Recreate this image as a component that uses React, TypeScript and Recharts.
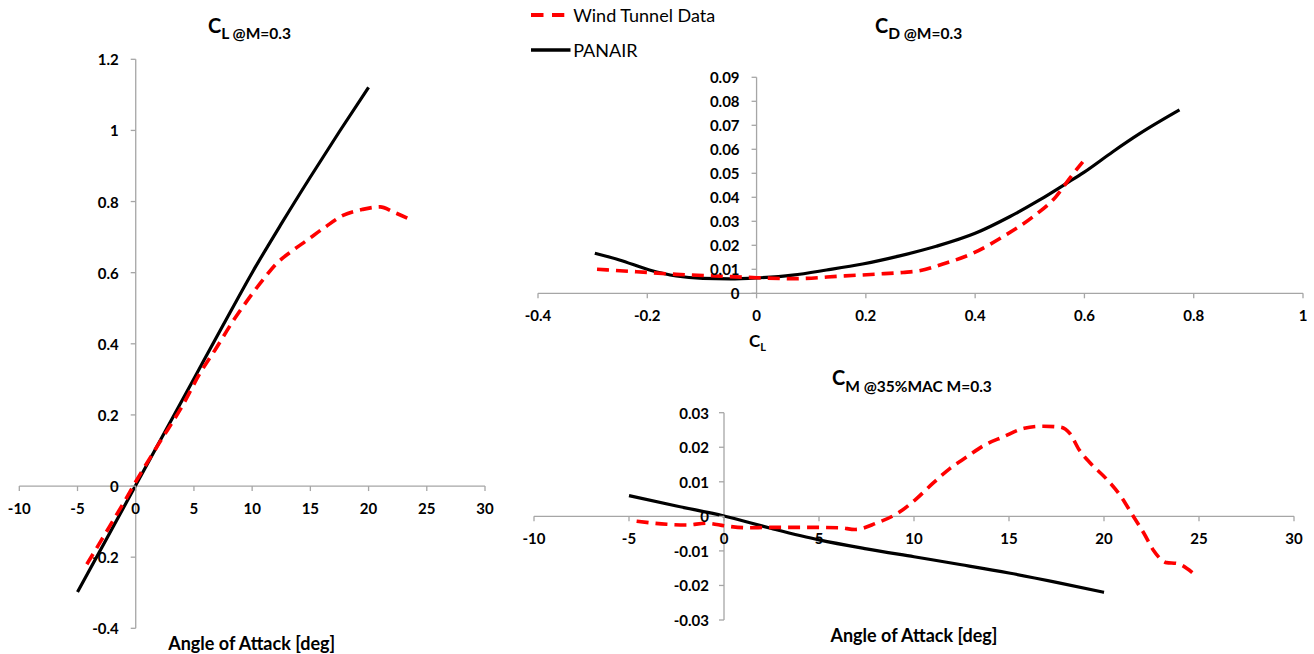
import React from "react";
import { LineChart, Line, XAxis, YAxis, ReferenceLine, ReferenceDot, Legend } from "recharts";

const FONT = "Lato, 'Open Sans', sans-serif";
const AXIS = "#a6a6a6";
const RED = "#ff0000";
const DASH = "12 7";

// C_L vs angle of attack
const clAlphaWT = [-4.2, -3, -2, -1, 0, 2, 4, 5.5, 6.8, 8.4, 9.7, 11, 12.1, 13.3, 14.7, 16.3, 17.8, 19.5, 21, 22.1, 23.6];
const clWT = [-0.22, -0.155, -0.1, -0.045, 0.012, 0.12, 0.225, 0.316, 0.382, 0.466, 0.527, 0.583, 0.626, 0.658, 0.691, 0.729, 0.761, 0.778, 0.785, 0.771, 0.749];
const clAlphaPan = [-5, -2.5, 0, 2.5, 5, 7.5, 10, 12.5, 15, 17.5, 20];
const clPan = [-0.298, -0.148, 0.002, 0.152, 0.302, 0.452, 0.6, 0.737, 0.869, 0.997, 1.121];

// C_D vs C_L
const cdClWT = [-0.292, -0.22, -0.147, -0.074, 0, 0.066, 0.158, 0.22, 0.268, 0.298, 0.341, 0.396, 0.451, 0.506, 0.548, 0.573, 0.597];
const cdWT = [0.01, 0.009, 0.0079, 0.0072, 0.0065, 0.0061, 0.0072, 0.008, 0.0087, 0.0094, 0.0122, 0.0167, 0.0236, 0.0319, 0.0403, 0.0479, 0.0548];
const cdClPan = [-0.296, -0.251, -0.196, -0.147, -0.098, -0.049, 0, 0.066, 0.128, 0.194, 0.262, 0.329, 0.4, 0.463, 0.518, 0.567, 0.599, 0.652, 0.701, 0.774];
const cdPan = [0.0167, 0.0139, 0.0097, 0.0072, 0.0062, 0.006, 0.0064, 0.0076, 0.0097, 0.0122, 0.0156, 0.0196, 0.025, 0.0319, 0.0389, 0.0458, 0.0504, 0.059, 0.0665, 0.0764];

// C_M vs angle of attack
const cmAlphaWT = [-4.6, -3, -2, -0.9, 0.1, 1.2, 2.4, 3.7, 4.9, 6.1, 6.9, 8.0, 9.2, 10.05, 11, 11.9, 12.8, 13.7, 14.7, 15.8, 16.8, 17.7, 18.2, 18.7, 19.3, 20.1, 20.9, 21.5, 22.1, 22.6, 23.3, 23.8, 24.8];
const cmWT = [-0.0014, -0.0023, -0.0025, -0.002, -0.0028, -0.0033, -0.0032, -0.0032, -0.0032, -0.0033, -0.0038, -0.002, 0.0011, 0.0047, 0.0096, 0.0139, 0.0173, 0.0206, 0.023, 0.0255, 0.0261, 0.0258, 0.024, 0.0192, 0.0153, 0.011, 0.0057, 0.0004, -0.0049, -0.0098, -0.0134, -0.0136, -0.017];
const cmAlphaPan = [-5, -2.5, 0, 2.5, 5, 7.5, 10, 12.5, 15, 17.5, 20];
const cmPan = [0.006, 0.003, 0.0001, -0.0035, -0.0068, -0.0094, -0.0117, -0.014, -0.0164, -0.0191, -0.022];

// ticks
const alphaTicks = [-10, -5, 0, 5, 10, 15, 20, 25, 30];
const alphaTickLabels = ["-10", "-5", "0", "5", "10", "15", "20", "25", "30"];
const clTicks = [-0.4, -0.2, 0, 0.2, 0.4, 0.6, 0.8, 1, 1.2];
const clTickLabels = ["-0.4", "-0.2", "0", "0.2", "0.4", "0.6", "0.8", "1", "1.2"];
const clXTicks = [-0.4, -0.2, 0, 0.2, 0.4, 0.6, 0.8, 1];
const clXTickLabels = ["-0.4", "-0.2", "0", "0.2", "0.4", "0.6", "0.8", "1"];
const cdTicks = [0, 0.01, 0.02, 0.03, 0.04, 0.05, 0.06, 0.07, 0.08, 0.09];
const cdTickLabels = ["0", "0.01", "0.02", "0.03", "0.04", "0.05", "0.06", "0.07", "0.08", "0.09"];
const cmTicks = [-0.03, -0.02, -0.01, 0, 0.01, 0.02, 0.03];
const cmTickLabels = ["-0.03", "-0.02", "-0.01", "0", "0.01", "0.02", "0.03"];

const zip = (xs: number[], ys: number[]) => xs.map((x, i) => ({ x, y: ys[i] }));

const xTickShape = (label: string) => (p: any) => (
  <g>
    <line x1={p.cx} y1={p.cy} x2={p.cx} y2={p.cy + 5} stroke={AXIS} strokeWidth={1.3} />
    <text x={p.cx} y={p.cy + 22} textAnchor="middle" dominantBaseline="central"
      fontFamily={FONT} fontWeight={700} fontSize={15} fill="#000">{label}</text>
  </g>
);

const yTickShape = (label: string, gap: number) => (p: any) => (
  <g>
    <line x1={p.cx - 5} y1={p.cy} x2={p.cx} y2={p.cy} stroke={AXIS} strokeWidth={1.3} />
    <text x={p.cx - gap} y={p.cy} textAnchor="end" dominantBaseline="central"
      fontFamily={FONT} fontWeight={700} fontSize={15} fill="#000">{label}</text>
  </g>
);

const LegendBox = () => (
  <div style={{ fontFamily: FONT, fontSize: 18, color: "#000", width: 220 }}>
    <div style={{ display: "flex", alignItems: "center", height: 24 }}>
      <svg width={42.5} height={10}>
        <line x1={0} y1={5} x2={33.3} y2={5} stroke={RED} strokeWidth={4} strokeDasharray="12.5 8.5" />
      </svg>
      <span>Wind Tunnel Data</span>
    </div>
    <div style={{ display: "flex", alignItems: "center", height: 24, marginTop: 11 }}>
      <svg width={42.5} height={10}>
        <line x1={0} y1={5} x2={39.5} y2={5} stroke="#000" strokeWidth={3.5} />
      </svg>
      <span>PANAIR</span>
    </div>
  </div>
);

type PanelProps = {
  width: number;
  height: number;
  margin: { top: number; right: number; bottom: number; left: number };
  xDomain: [number, number];
  yDomain: [number, number];
  xTicks: number[];
  xLabels: string[];
  yTicks: number[];
  yLabels: string[];
  yGap: number;
  wt: { x: number; y: number }[];
  pan: { x: number; y: number }[];
  legend?: boolean;
};

function Panel(props: PanelProps) {
  const { width, height, margin, xDomain, yDomain, xTicks, xLabels, yTicks, yLabels, yGap, wt, pan, legend } = props;
  return (
    <LineChart width={width} height={height} margin={margin}>
      <XAxis type="number" dataKey="x" domain={xDomain} hide allowDataOverflow />
      <YAxis type="number" dataKey="y" domain={yDomain} hide allowDataOverflow />
      <ReferenceLine y={0} stroke={AXIS} strokeWidth={1.3} ifOverflow="visible" />
      <ReferenceLine x={0} stroke={AXIS} strokeWidth={1.3} ifOverflow="visible" />
      {xTicks.map((t, i) => (
        <ReferenceDot key={"x" + i} x={t} y={0} r={0} ifOverflow="visible" shape={xTickShape(xLabels[i])} />
      ))}
      {yTicks.map((t, i) => (
        <ReferenceDot key={"y" + i} x={0} y={t} r={0} ifOverflow="visible" shape={yTickShape(yLabels[i], yGap)} />
      ))}
      <Line data={pan} dataKey="y" name="PANAIR" type="monotone" stroke="#000" strokeWidth={3.2}
        dot={false} activeDot={false} isAnimationActive={false} />
      <Line data={wt} dataKey="y" name="Wind Tunnel Data" type="monotone" stroke={RED} strokeWidth={3.6}
        strokeDasharray={DASH} dot={false} activeDot={false} isAnimationActive={false} />
      {legend && (
        <Legend content={<LegendBox />} layout="vertical" align="center" verticalAlign="middle"
          wrapperStyle={{ left: 30.7, top: 3, width: 220 }} />
      )}
    </LineChart>
  );
}

export default function App() {
  const titleStyle = { fontFamily: FONT, fontWeight: 700, fill: "#000" } as const;
  return (
    <div style={{ position: "absolute", left: 0, top: 0, width: 1314, height: 654, background: "#fff", overflow: "hidden" }}>
      <div style={{ position: "absolute", left: 0, top: 0 }}>
        <Panel width={500} height={654} margin={{ top: 59.3, right: 15, bottom: 25.7, left: 19.3 }}
          xDomain={[-10, 30]} yDomain={[-0.4, 1.2]}
          xTicks={alphaTicks} xLabels={alphaTickLabels} yTicks={clTicks} yLabels={clTickLabels} yGap={17}
          wt={zip(clAlphaWT, clWT)} pan={zip(clAlphaPan, clPan)} />
      </div>
      <div style={{ position: "absolute", left: 500, top: 0 }}>
        <Panel width={814} height={360} margin={{ top: 77.3, right: 11, bottom: 66.7, left: 38 }}
          xDomain={[-0.4, 1]} yDomain={[0, 0.09]}
          xTicks={clXTicks} xLabels={clXTickLabels} yTicks={cdTicks} yLabels={cdTickLabels} yGap={17}
          wt={zip(cdClWT, cdWT)} pan={zip(cdClPan, cdPan)} legend />
      </div>
      <div style={{ position: "absolute", left: 500, top: 360 }}>
        <Panel width={814} height={294} margin={{ top: 52.7, right: 20, bottom: 34, left: 34 }}
          xDomain={[-10, 30]} yDomain={[-0.03, 0.03]}
          xTicks={alphaTicks} xLabels={alphaTickLabels} yTicks={cmTicks} yLabels={cmTickLabels} yGap={15}
          wt={zip(cmAlphaWT, cmWT)} pan={zip(cmAlphaPan, cmPan)} />
      </div>
      <svg width={1314} height={654} style={{ position: "absolute", left: 0, top: 0, pointerEvents: "none" }}>
        <text x={208} y={32.7} {...titleStyle} fontSize={20}>
          C<tspan fontSize={15.5} dy={6.3}>L @M=0.3</tspan>
        </text>
        <text x={875} y={32.7} {...titleStyle} fontSize={20}>
          C<tspan fontSize={15.5} dy={6}>D @M=0.3</tspan>
        </text>
        <text x={832} y={385} {...titleStyle} fontSize={20}>
          C<tspan fontSize={15.5} dy={7}>M @35%MAC M=0.3</tspan>
        </text>
        <text x={251.7} y={650} {...titleStyle} fontSize={18} textAnchor="middle">Angle of Attack [deg]</text>
        <text x={914} y={641.7} {...titleStyle} fontSize={18} textAnchor="middle">Angle of Attack [deg]</text>
        <text x={749} y={347} {...titleStyle} fontSize={17}>
          C<tspan fontSize={11} dy={4}>L</tspan>
        </text>
      </svg>
    </div>
  );
}
